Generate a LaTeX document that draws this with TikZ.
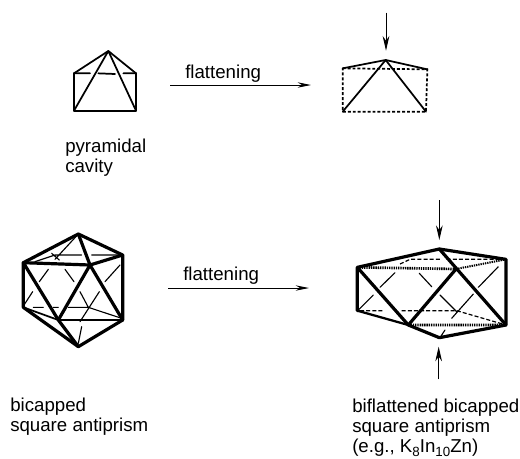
\documentclass[tikz,border=0pt]{standalone}
\usepackage{fontspec}
\setmainfont{Liberation Sans}
\usetikzlibrary{arrows.meta}
\newcommand{\subtxt}[1]{\raisebox{-0.2em}{\fontsize{10pt}{10pt}\selectfont #1}}
\tikzset{
  thinedge/.style={line width=0.85pt,line cap=round},
  midedge/.style={line width=1.3pt,line cap=round,line join=round},
  heavyedge/.style={line width=2.4pt,line cap=round,line join=round},
  hiddenedge/.style={line width=0.9pt,dash pattern=on 3pt off 1.6pt},
  smalldash/.style={line width=1.3pt,dash pattern=on 2.2pt off 1.5pt},
  heavydots/.style={line width=2pt,dash pattern=on 1pt off 0.7pt},
  flow/.style={line width=0.7pt,-{Stealth[length=10pt,width=4pt]}},
  press/.style={line width=0.7pt,-{Stealth[length=11pt,width=5pt]}},
  caption/.style={font=\fontsize{14pt}{15pt}\selectfont,align=left,inner sep=0pt,anchor=north west},
}
\begin{document}
\begin{tikzpicture}[x=0.75pt,y=-0.75pt]
\useasboundingbox (0,0) rectangle (520,458);
\fill[white] (0,0) rectangle (520,458);
% flow arrows
\coordinate (f1a) at (170,85); \coordinate (f1b) at (311,85);
\coordinate (f2a) at (168,288); \coordinate (f2b) at (309,288);
\draw[flow] (f1a) -- (f1b);
\draw[flow] (f2a) -- (f2b);
\node[caption,anchor=base west] (l1) at (185,78) {flattening};
\node[caption,anchor=base west] (l2) at (183,280) {flattening};
% pyramid
\begin{scope}[shift={(50,40)},x=0.25pt,y=-0.25pt]
\coordinate (pA) at (175,33); \coordinate (pTL) at (72,100); \coordinate (pTR) at (258,100);
\coordinate (pBL) at (72,212); \coordinate (pBR) at (258,212);
\draw[midedge] (pTL) -- (pBL) -- (pBR) -- (pTR);
\draw[midedge] (pTL) -- (pA) -- (pTR);
\draw[midedge] (pBL) -- (pA) -- (pBR);
\draw[midedge] (pTL) -- (120,100) (145,100) -- (195,102) (220,100) -- (pTR);
\end{scope}
% flattened pyramid
\begin{scope}[shift={(320,0)},x=0.25pt,y=-0.25pt]
\coordinate (qA) at (197,180); \coordinate (qL) at (68,205); \coordinate (qR) at (322,208);
\coordinate (qBL) at (68,335); \coordinate (qBR) at (318,335);
\coordinate (qt) at (198,38); \coordinate (qh) at (198,152);
\draw[smalldash] (qL) -- (qR) -- (qBR) -- (qBL) -- cycle;
\draw[midedge] (qL) -- (qA) -- (qR);
\draw[midedge] (qBL) -- (qA) -- (qBR);
\draw[press] (qt) -- (qh);
\end{scope}
% bicapped square antiprism
\begin{scope}[shift={(10,210)},x=0.25pt,y=-0.25pt]
\coordinate (T) at (205,72); \coordinate (LU) at (40,158); \coordinate (RU) at (338,135);
\coordinate (CU) at (240,165); \coordinate (LD) at (40,292); \coordinate (BM) at (145,330);
\coordinate (RD) at (338,330); \coordinate (B) at (205,410);
\draw[thinedge] (115,178) -- (88,215) (68,245) -- (42,285) (165,178) -- (192,215)
  (210,245) -- (235,292) (268,245) -- (210,335) (330,165) -- (285,215)
  (75,155) -- (135,135) -- (215,135) (245,135) -- (RU) (135,148) -- (T)
  (125,130) -- (148,150)
  (70,292) -- (100,292) (130,292) -- (145,292) (175,292) -- (235,292) -- (335,325)
  (215,350) -- (205,400);
\draw[heavyedge] (LU) -- (T) -- (RU) -- (RD) -- (B) -- (LD) -- cycle;
\draw[heavyedge] (T) -- (CU) -- (BM) -- (B);
\draw[heavyedge] (LU) -- (CU) -- (RU) (LU) -- (BM) (CU) -- (RD);
\draw[midedge] (LD) -- (BM) -- (RD);
\end{scope}
% biflattened
\begin{scope}[shift={(340,190)},x=0.25pt,y=-0.25pt]
\coordinate (t) at (298,177); \coordinate (lu) at (52,232); \coordinate (ru) at (498,208);
\coordinate (cu) at (348,237); \coordinate (ld) at (52,362); \coordinate (bm) at (205,405);
\coordinate (rd) at (498,405); \coordinate (b) at (298,443);
\coordinate (at) at (298,30); \coordinate (ah) at (298,150);
\coordinate (bt) at (296,568); \coordinate (bh) at (296,470);
\draw[thinedge] (165,248) -- (120,292) (100,315) -- (55,360) (238,250) -- (275,290)
  (300,315) -- (350,365) (400,312) -- (335,385) (475,230) -- (415,292) (300,443) -- (315,420);
\draw[hiddenedge] (180,222) -- (210,208) -- (300,208) (320,208) -- (ru);
\draw[hiddenedge] (60,362) -- (130,362) (185,362) -- (350,362) -- (rd);
\draw[heavydots] (lu) -- (cu) (bm) -- (rd);
\draw[heavydots,line width=1.5pt] (cu) -- (ru);
\draw[heavyedge] (lu) -- (t) -- (ru) -- (rd) -- (b) -- (bm) (ld) -- (lu) -- (bm);
\draw[heavyedge] (t) -- (rd) (cu) -- (bm);
\draw[heavyedge,line width=1.7pt] (ld) -- (bm);
\draw[press] (at) -- (ah);
\draw[press] (bt) -- (bh);
\end{scope}
% captions
\node[caption] (c1) at (65,139) {pyramidal\\cavity};
\node[caption] (c2) at (10,398) {bicapped\\square antiprism};
\node[caption] (c3) at (352,399) {biflattened bicapped\\square antiprism\\(e.g., K\subtxt{8}In\subtxt{10}Zn)};
\end{tikzpicture}
\end{document}
